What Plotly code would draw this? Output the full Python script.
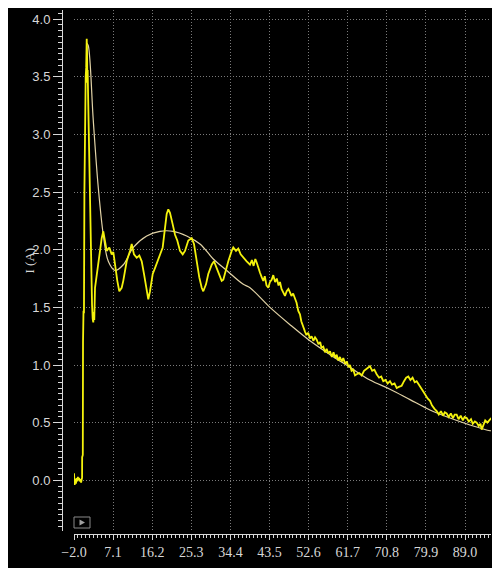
import plotly.graph_objects as go

# the page adds an 8px body margin, so the figure itself is the dark panel
OFF = 8
W, H = 484, 560

# measured current (yellow trace)
meas_t = [
    -2.00, -1.98, -1.85, -1.70, -1.55, -1.40, -1.25, -1.10, -0.95, -0.80, -0.65, -0.50, -0.35, -0.20,
    -0.12, -0.10, 0.05, 0.10, 0.21, 0.32, 0.42, 0.52, 0.62, 0.72, 0.84, 0.96, 1.04, 1.10, 1.18, 1.30,
    1.45, 1.60, 1.75, 1.90, 2.05, 2.20, 2.35, 2.49, 2.60, 2.72, 2.89, 3.28, 3.89, 4.45, 4.82, 5.21,
    5.61, 6.22, 6.77, 7.15, 7.54, 8.08, 8.54, 9.10, 9.47, 10.26, 11.03, 11.43, 11.96, 12.59, 13.20,
    13.76, 14.29, 14.76, 15.29, 15.69, 16.32, 16.85, 17.39, 18.01, 18.64, 19.18, 19.57, 19.95, 20.34,
    20.97, 21.51, 22.04, 22.67, 23.30, 23.83, 24.60, 25.39, 25.93, 26.56, 27.16, 27.72, 28.09, 28.72,
    29.25, 30.05, 30.58, 31.21, 31.81, 32.37, 32.75, 33.37, 33.91, 34.70, 35.07, 35.70, 36.24, 36.79,
    37.40, 38.19, 38.96, 39.40, 39.80, 40.20, 40.52, 40.90, 41.29, 41.70, 42.05, 42.40, 42.80, 43.22,
    43.60, 44.00, 44.38, 44.80, 45.20, 45.60, 45.94, 46.30, 46.70, 47.10, 47.50, 47.90, 48.27, 48.60,
    49.00, 49.43, 49.80, 50.20, 50.59, 50.90, 51.30, 51.76, 52.10, 52.50, 52.92, 53.30, 53.70, 54.10,
    54.48, 54.90, 55.30, 55.60, 56.02, 56.40, 56.80, 57.20, 57.58, 58.00, 58.40, 58.80, 59.14, 59.50,
    59.90, 60.30, 60.67, 61.10, 61.50, 61.90, 62.23, 62.60, 63.00, 63.40, 63.79, 64.40, 64.95, 65.50,
    66.20, 66.88, 67.40, 67.90, 68.44, 69.00, 69.50, 69.98, 70.50, 71.00, 71.54, 72.00, 72.60, 73.10,
    73.60, 74.26, 74.80, 75.30, 75.80, 76.30, 76.80, 77.30, 77.75, 78.20, 78.80, 79.29, 79.80, 80.30,
    80.85, 81.30, 81.90, 82.41, 82.90, 83.40, 83.90, 84.30, 84.73, 85.20, 85.70, 86.20, 86.60, 87.06,
    87.50, 88.00, 88.50, 88.90, 89.39, 89.90, 90.40, 90.80, 91.30, 91.72, 92.20, 92.60, 92.88, 93.30,
    93.70, 94.20, 94.81, 95.10,
]
meas_i = [
    0.06, -0.01, -0.04, 0.01, -0.03, 0.02, -0.01, 0.03, 0.00, 0.02, -0.01, 0.01, -0.02, 0.01,
    0.02, 0.20, 0.22, 1.20, 1.47, 1.45, 2.50, 3.00, 3.02, 3.50, 3.58, 3.83, 3.72, 3.45, 3.56, 3.30,
    2.95, 2.55, 2.20, 1.95, 1.70, 1.52, 1.40, 1.37, 1.46, 1.39, 1.67, 1.79, 1.96, 2.10, 2.16, 2.08,
    1.99, 2.02, 1.96, 1.98, 1.87, 1.73, 1.64, 1.67, 1.73, 1.90, 1.99, 2.05, 1.96, 1.93, 1.95,
    1.90, 1.79, 1.67, 1.57, 1.64, 1.79, 1.84, 1.90, 1.96, 2.02, 2.19, 2.31, 2.35, 2.32,
    2.22, 2.13, 2.08, 1.99, 1.96, 1.99, 2.08, 2.10, 2.05, 1.90, 1.76, 1.67, 1.64, 1.70,
    1.79, 1.87, 1.90, 1.84, 1.79, 1.73, 1.74, 1.84, 1.90, 1.99, 2.02, 1.99, 2.01, 1.96,
    1.93, 1.90, 1.87, 1.91, 1.86, 1.92, 1.89, 1.84, 1.80, 1.76, 1.73, 1.77, 1.69, 1.67,
    1.72, 1.74, 1.78, 1.72, 1.75, 1.69, 1.72, 1.66, 1.63, 1.60, 1.64, 1.66, 1.63, 1.60,
    1.62, 1.57, 1.54, 1.47, 1.44, 1.38, 1.33, 1.29, 1.26, 1.28, 1.23, 1.25, 1.21, 1.24,
    1.22, 1.18, 1.20, 1.15, 1.16, 1.11, 1.14, 1.10, 1.12, 1.07, 1.11, 1.06, 1.09, 1.04,
    1.07, 1.03, 1.06, 1.01, 1.03, 0.98, 1.00, 0.95, 0.96, 0.91, 0.92, 0.93, 0.91, 0.95,
    0.97, 0.99, 0.95, 0.96, 0.92, 0.89, 0.90, 0.86, 0.87, 0.84, 0.86, 0.83, 0.84, 0.80,
    0.81, 0.82, 0.86, 0.89, 0.90, 0.87, 0.89, 0.85, 0.86, 0.83, 0.80, 0.77, 0.74, 0.71,
    0.69, 0.65, 0.62, 0.60, 0.57, 0.60, 0.56, 0.59, 0.58, 0.55, 0.58, 0.54, 0.57, 0.57,
    0.53, 0.56, 0.52, 0.55, 0.54, 0.51, 0.53, 0.49, 0.51, 0.50, 0.47, 0.49, 0.44, 0.48,
    0.52, 0.50, 0.53, 0.54,
]

# fitted curve (thin tan line)
fit_t = [1.03, 1.33, 2.49, 3.65, 4.82, 5.98, 7.54, 9.47, 11.80, 14.92, 18.01, 21.11, 24.23, 27.32,
         30.42, 33.54, 37.40, 38.96, 43.61, 48.27, 52.92, 57.58, 62.23, 66.88, 71.54, 76.19, 80.85,
         85.50, 90.16, 94.81, 95.10]
fit_i = [3.79, 3.77, 3.12, 2.54, 2.13, 1.90, 1.82, 1.87, 2.02, 2.12, 2.16, 2.16, 2.12, 2.05,
         1.92, 1.82, 1.70, 1.67, 1.50, 1.35, 1.21, 1.09, 0.98, 0.87, 0.79, 0.70, 0.61,
         0.54, 0.48, 0.43, 0.43]

x_range = [-2.0, 95.05]
y_range = [-0.44, 4.08]


def px_x(p):
    # page pixel -> paper fraction
    return (p - OFF) / W


def px_y(p):
    return 1 - (p - OFF) / H


fig = go.Figure()
fig.add_trace(go.Scatter(x=fit_t, y=fit_i, mode="lines", line=dict(color="#e2d3a6", width=1.2, shape="spline"),
                         showlegend=False, hoverinfo="skip"))
fig.add_trace(go.Scatter(x=meas_t, y=meas_i, mode="lines", line=dict(color="#f4f20c", width=1.8),
                         showlegend=False))

tick_col = "#d8d8d8"
grid_col = "#7a7a7a"

fig.update_layout(
    width=W, height=H,
    margin=dict(l=0, r=0, t=0, b=0),
    paper_bgcolor="#000000",
    plot_bgcolor="#000000",
    font=dict(family="Liberation Serif", color=tick_col, size=13),
    xaxis=dict(
        domain=[px_x(74), px_x(491)], range=x_range, anchor="free", position=px_y(534),
        tick0=-2.0, dtick=9.1, tickformat=".1f", ticks="outside", ticklen=5, tickcolor=tick_col,
        showline=True, linecolor=tick_col, linewidth=1, zeroline=False,
        showgrid=True, gridcolor=grid_col, griddash="1px,2px", gridwidth=1,
        tickfont=dict(family="Liberation Serif", size=14, color=tick_col),
        minor=dict(tick0=-2.0, dtick=0.91, ticks="outside", ticklen=3, tickcolor=tick_col, showgrid=False),
        automargin=False, fixedrange=True,
    ),
    yaxis=dict(
        domain=[px_y(531), px_y(10)], range=y_range, anchor="free", position=px_x(62),
        tick0=0, dtick=0.5, tickformat=".1f", ticks="outside", ticklen=9, tickcolor=tick_col,
        showline=True, linecolor=tick_col, linewidth=1, zeroline=False,
        showgrid=True, gridcolor=grid_col, griddash="1px,2px", gridwidth=1,
        tickfont=dict(family="Liberation Sans", size=13, color=tick_col),
        minor=dict(tick0=0, dtick=0.05, ticks="outside", ticklen=4, tickcolor=tick_col, showgrid=False),
        automargin=False, fixedrange=True,
    ),
    shapes=[
        # small play button
        dict(type="rect", xref="paper", yref="paper", x0=px_x(74), x1=px_x(90), y0=px_y(528), y1=px_y(517),
             fillcolor="#000000", line=dict(color="#8a8a8a", width=1)),
        dict(type="path", xref="paper", yref="paper",
             path=f"M {px_x(79.5)},{px_y(519.5)} L {px_x(79.5)},{px_y(525.5)} L {px_x(85)},{px_y(522.5)} Z",
             fillcolor="#a0a0a0", line=dict(width=0)),
    ],
    annotations=[
        dict(text="I (A)", textangle=-90, xref="paper", yref="paper", x=px_x(20), y=px_y(261),
             showarrow=False, font=dict(family="Liberation Serif", size=13, color=tick_col)),
        dict(text="time (s)", xref="paper", yref="paper", x=px_x(491), y=px_y(565),
             xanchor="right", yanchor="top", showarrow=False,
             font=dict(family="Liberation Serif", size=14, color=tick_col)),
    ],
)

fig.write_html("out.html")
